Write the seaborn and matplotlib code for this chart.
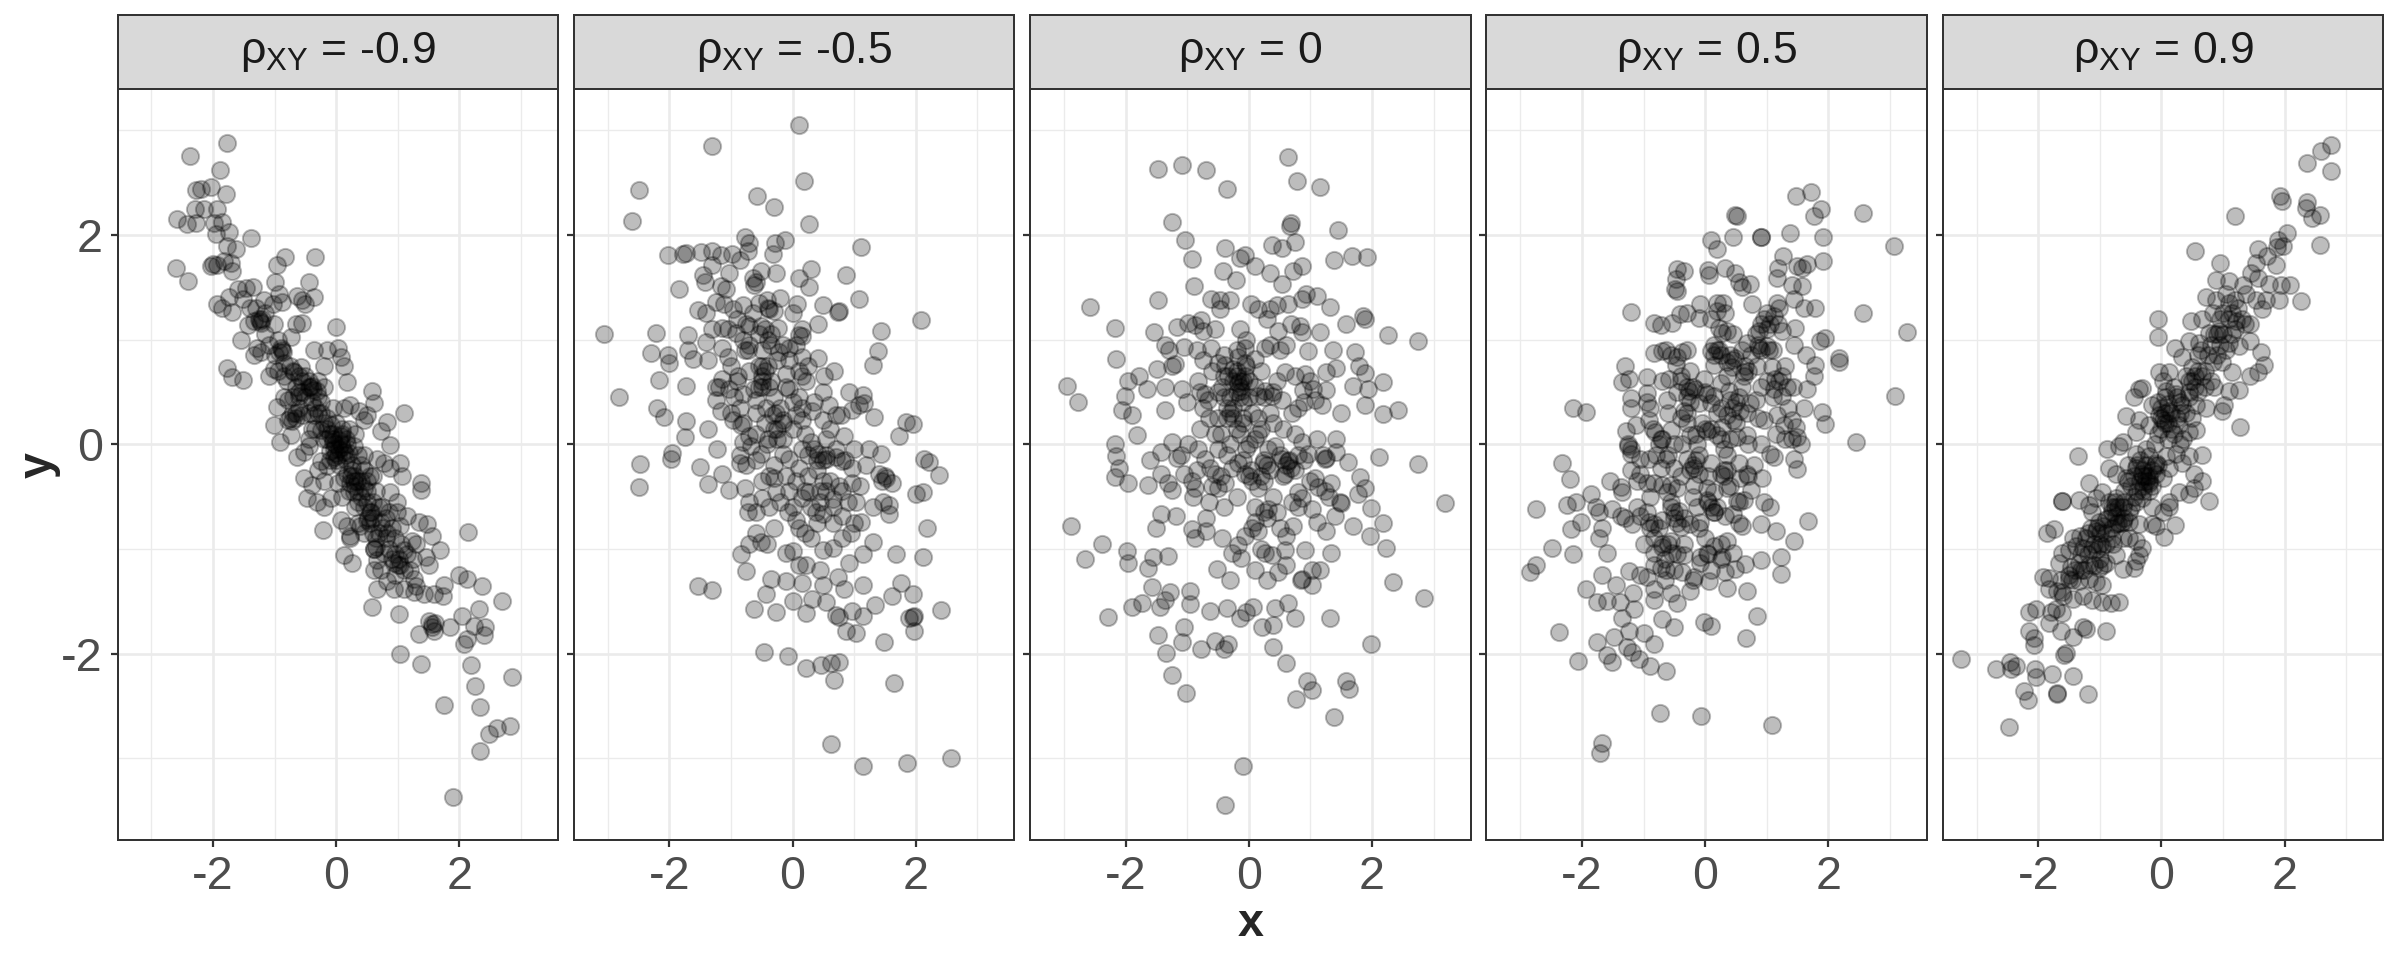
import numpy as np
import pandas as pd
import matplotlib
matplotlib.use("Agg")
import matplotlib.pyplot as plt
from matplotlib.patches import Rectangle
import seaborn as sns

# ---------------- data ----------------
rho_values = ["-0.9", "-0.5", "0", "0.5", "0.9"]

pts_m09 = [
(-1.77,2.88),(-2.37,2.75),(-1.88,2.62),(-2.2,2.44),(-2.28,2.43),(-2.04,2.46),(-1.79,2.39),(-2.14,2.25),(-2.3,2.25),(-1.93,2.25),
(-2.59,2.15),(-2.42,2.1),(-2.28,2.11),(-1.98,2.11),(-1.85,2.12),(-1.74,2.03),(-1.96,2.01),(-1.39,1.97),(-1.77,1.89),(-1.63,1.86),
(-2.61,1.68),(-2.41,1.56),(-2.0,1.72),(-1.93,1.71),(-1.82,1.75),(-1.71,1.73),(-1.69,1.65),(-2.04,1.70),(-0.83,1.79),(-0.97,1.71),
(-0.35,1.79),(-0.99,1.55),(-0.44,1.55),(-1.93,1.34),(-1.85,1.30),(-1.69,1.26),(-1.74,1.41),(-1.59,1.48),(-1.47,1.49),(-1.35,1.50),
(-1.52,1.39),(-1.17,1.38),(-0.93,1.43),(-0.88,1.36),(-1.02,1.34),(-0.63,1.42),(-0.50,1.34),(-0.36,1.41),(-0.55,1.38),(-1.34,1.18),
(-1.24,1.18),(-1.2,1.2),(-1.44,1.14),(-1.01,1.15),(-1.54,1.0),(-1.28,0.92),(-1.34,0.85),(-1.23,0.88),(-0.88,0.90),(-0.93,0.88),
(-0.74,1.02),(-0.66,1.15),(-0.55,1.16),(-0.01,1.12),(-1.78,0.73),(-1.70,0.64),(-1.52,0.61),(-1.09,0.65),(-1.01,0.72),(-0.85,0.78),
(-0.69,0.69),(-0.58,0.74),(-0.42,0.55),(-0.31,0.51),(-0.20,0.55),(-0.36,0.90),(-0.15,0.90),(0.02,0.92),(0.07,0.83),(0.12,0.75),
(0.18,0.59),(-0.96,0.36),(-0.79,0.23),(-0.66,0.25),(-0.55,0.28),(-1.01,0.18),(-0.91,0.02),(-0.74,0.09),(-0.63,-0.12),(-0.52,-0.07),
(-0.44,-0.02),(-0.79,0.42),(-0.60,0.46),(-0.36,0.28),(-0.25,0.14),(-0.15,0.05),(-0.04,-0.05),(0.07,0.0),(0.18,0.0),(0.29,-0.02),
(-0.04,-0.12),(0.12,-0.07),(-0.09,0.18),(0.12,0.35),(0.23,0.37),(0.37,0.32),(0.45,0.23),(0.58,0.51),(0.61,0.39),(0.72,0.13),
(0.83,0.21),(1.10,0.30),(0.88,-0.01),(0.50,0.28),(-0.25,-0.16),(-0.15,-0.21),(-0.52,-0.32),(-0.39,-0.39),(-0.47,-0.51),(-0.31,-0.55),
(-0.20,-0.60),(-0.09,-0.51),(0.02,-0.37),(0.12,-0.32),(0.23,-0.37),(0.34,-0.35),(0.45,-0.42),(0.18,-0.28),(0.29,-0.46),(0.50,-0.55),
(0.66,-0.14),(0.77,-0.18),(0.88,-0.23),(1.04,-0.18),(1.07,-0.30),(1.37,-0.37),(1.37,-0.44),(0.88,-0.46),(0.99,-0.55),(-0.21,-0.82),
(0.07,-0.72),(0.18,-0.78),(0.23,-0.88),(0.39,-0.78),(0.56,-0.65),(0.50,-0.72),(0.72,-0.74),(0.83,-0.85),(0.99,-0.65),(1.04,-0.78),
(1.15,-0.69),(0.12,-1.06),(0.26,-1.13),(0.23,-0.90),(0.61,-1.0),(0.66,-1.11),(0.77,-1.04),(0.94,-1.13),(1.04,-1.15),(1.10,-1.01),
(1.23,-0.92),(1.34,-0.74),(1.48,-0.76),(1.56,-0.88),(1.45,-1.08),(1.51,-1.15),(1.69,-1.01),(0.61,-1.2),(0.72,-1.2),(0.83,-1.31),
(0.66,-1.38),(0.94,-1.38),(1.10,-1.38),(1.26,-1.41),(1.42,-1.43),(1.58,-1.43),(0.58,-1.55),(1.02,-1.62),(1.26,-1.29),(1.75,-1.34),
(1.73,-1.45),(2.14,-0.84),(1.99,-1.25),(2.12,-1.29),(2.37,-1.35),(2.69,-1.50),(2.31,-1.57),(2.04,-1.64),(2.23,-1.74),(2.42,-1.75),
(2.39,-1.82),(2.07,-1.91),(2.12,-1.86),(1.50,-1.69),(1.56,-1.75),(1.61,-1.71),(1.34,-1.81),(1.85,-1.75),(1.04,-2.0),(1.37,-2.1),
(2.18,-2.11),(2.26,-2.31),(2.85,-2.22),(1.75,-2.49),(2.34,-2.51),(2.48,-2.77),(2.61,-2.71),(2.82,-2.69),(2.34,-2.93),(1.89,-3.37),
(-1.22,1.16),(-1.26,1.20),(-0.90,0.92),(-0.86,0.88),(-0.70,0.70),(-0.40,0.56),(-0.38,0.52),(-0.45,0.60),(-0.75,0.25),(-0.72,0.22),
(-0.02,0.0),(0.0,-0.08),(0.05,0.04),(0.10,-0.03),(-0.06,0.02),(0.03,-0.10),(0.08,0.08),(-0.1,-0.06),(0.15,0.05),(0.2,-0.08),
(0.28,-0.35),(0.3,-0.40),(0.24,-0.30),(0.55,-0.65),(0.52,-0.70),(0.62,-1.0),(0.65,-0.98),(1.0,-1.15),(1.02,-1.1),(1.55,-1.72),
(1.58,-1.78),(0.4,-0.2),(0.6,-0.3),(-0.3,0.3),(-0.6,0.5),(0.35,-0.55),(0.8,-0.9),(0.75,-0.6),(-0.45,0.05),(0.45,-0.1),
(-0.2,-0.35),(0.95,-0.9),(1.2,-1.2),(-1.1,0.95),(-0.2,0.75),
(-1.0,0.85),(-0.95,1.0),(-0.8,0.6),(-0.75,0.75),(-0.65,0.55),(-0.6,0.35),(-0.55,0.6),(-0.5,0.45),(-0.45,0.3),(-0.4,0.4),
(-0.35,0.15),(-0.3,0.45),(-0.25,0.3),(-0.2,0.05),(-0.15,0.25),(-0.1,-0.15),(-0.05,0.1),(0.0,0.2),(0.05,-0.2),(0.1,0.15),
(0.15,-0.15),(0.2,0.15),(0.25,-0.2),(0.3,0.1),(0.35,-0.1),(0.4,-0.35),(0.45,-0.25),(0.5,-0.45),(0.55,-0.3),(0.6,-0.55),
(0.65,-0.45),(0.7,-0.6),(0.75,-0.8),(0.8,-0.7),(0.85,-1.0),(0.9,-0.8),(0.95,-1.05),(1.05,-0.95),(1.1,-1.2),(1.15,-1.05),
(-1.3,1.3),(-1.15,1.05),(-0.85,0.45),(-0.7,0.45),(0.35,-0.75),(0.6,-0.85),(-0.3,-0.25),(0.1,-0.5),(1.25,-1.1),(1.3,-0.95),
(-0.05,0.05),(0.05,-0.05),(0.1,0.1),(-0.1,0.1),(0.0,-0.15),(0.15,-0.1),(-0.15,0.15),(0.25,-0.25),(0.3,-0.3),(0.35,-0.45),
(0.4,-0.5),(0.45,-0.6),(0.55,-0.75),(0.6,-0.7),(0.65,-0.9),(0.7,-0.85),(-0.5,0.65),(-0.45,0.55),(-0.55,0.5),(-0.6,0.65),
(-0.7,0.3),(-0.65,0.3),(-0.35,0.35),(-0.25,0.4),(-0.3,0.6),(-0.2,0.2),(0.2,-0.45),(0.5,-0.35),(0.85,-0.65),(0.9,-1.1),
(-0.85,0.65),(-0.95,0.7),(-1.15,1.25),(-1.4,1.3),(0.95,-1.25),(1.3,-1.35),(0.45,-0.85),(-0.05,0.35),(0.3,-0.6),(-0.4,0.15),
]

pts_m05 = [
(0.10,3.05),(-1.30,2.85),(-2.50,2.43),(0.19,2.51),(-0.58,2.37),(-0.30,2.27),(-2.61,2.13),(0.26,2.10),(-0.77,1.98),(-0.70,1.92),
(-0.12,1.95),(-0.29,1.92),(1.11,1.88),(-2.03,1.81),(-1.78,1.82),(-1.73,1.83),(-1.49,1.84),(-1.30,1.85),(-1.16,1.81),(-0.98,1.82),
(-0.86,1.76),(-0.73,1.85),(-0.32,1.82),(-1.46,1.62),(-1.30,1.71),(-1.03,1.64),(-0.65,1.59),(-0.51,1.65),(-0.27,1.64),(0.11,1.59),
(0.30,1.67),(0.27,1.50),(0.86,1.62),(-1.84,1.48),(-1.42,1.55),(-1.16,1.51),(-1.08,1.48),(-0.62,1.52),(1.08,1.39),(-1.54,1.28),
(-1.41,1.25),(-1.24,1.36),(-1.11,1.34),(-0.97,1.29),(-0.81,1.33),(-0.41,1.38),(-0.38,1.29),(-0.30,1.27),(0.08,1.34),(0.49,1.33),
(0.73,1.26),(0.76,1.27),(2.08,1.19),(-3.06,1.05),(-2.22,1.06),(-1.70,1.04),(-1.41,0.98),(-1.14,1.11),(-0.92,1.06),(-0.70,1.13),
(-0.51,1.13),(-0.24,1.11),(0.11,1.04),(0.16,1.03),(0.41,1.15),(1.43,1.08),(-2.30,0.87),(-2.03,0.85),(-2.0,0.78),(-1.70,0.90),
(-1.62,0.81),(-1.38,0.80),(-1.14,0.92),(-1.05,0.83),(-0.78,0.90),(-0.73,0.90),(-0.49,0.75),(-0.22,0.88),(-0.05,0.92),(0.16,0.83),
(0.41,0.82),(1.39,0.89),(1.31,0.76),(-2.17,0.61),(-1.73,0.56),(-2.81,0.45),(-1.24,0.55),(-1.14,0.62),(-1.03,0.53),(-0.89,0.65),
(-0.81,0.48),(-0.62,0.53),(-0.49,0.60),(-0.38,0.55),(-0.11,0.67),(-0.05,0.53),(0.16,0.65),(0.22,0.60),(0.51,0.65),(0.68,0.70),
(0.92,0.50),(1.14,0.47),(1.08,0.37),(1.16,0.39),(-2.20,0.35),(-2.08,0.26),(-1.73,0.22),(-1.74,0.07),(-1.38,0.15),(-1.95,-0.08),
(-1.97,-0.14),(-1.24,0.42),(-1.16,0.32),(-0.97,0.23),(-0.84,0.18),(-0.70,0.08),(-0.59,0.42),(-0.43,0.35),(-0.32,0.28),(-0.27,0.30),
(-0.16,0.23),(0.05,0.28),(0.16,0.23),(0.32,0.32),(0.49,0.23),(0.59,0.37),(0.70,0.28),(0.78,0.28),(0.84,0.08),(0.97,0.33),
(1.32,0.26),(1.73,0.08),(1.84,0.21),(1.95,0.19),(-2.47,-0.19),(-2.50,-0.41),(-1.51,-0.22),(-1.38,-0.38),(-1.22,-0.05),(-1.14,-0.28),
(-1.03,-0.44),(-0.86,-0.18),(-0.81,0.02),(-0.68,-0.02),(-0.51,-0.09),(-0.41,0.0),(-0.38,-0.30),(-0.30,-0.32),(-0.16,-0.09),(-0.05,-0.14),
(0.11,-0.23),(0.30,0.02),(0.41,-0.09),(0.54,-0.14),(0.70,-0.12),(0.81,-0.16),(1.0,-0.05),(0.97,-0.23),(1.24,-0.05),(1.43,-0.09),
(1.41,-0.28),(1.51,-0.32),(1.62,-0.37),(2.14,-0.14),(2.22,-0.17),(2.38,-0.29),(2.0,-0.48),(2.11,-0.46),(-0.78,-0.42),(-0.70,-0.55),
(-0.59,-0.65),(-0.49,-0.51),(-0.38,-0.60),(-0.27,-0.46),(-0.08,-0.65),(0.05,-0.72),(0.16,-0.51),(0.27,-0.46),(0.38,-0.65),(0.49,-0.67),
(0.65,-0.52),(0.81,-0.69),(0.97,-0.37),(1.03,-0.55),(1.11,-0.74),(1.46,-0.55),(1.57,-0.58),(1.57,-0.67),(2.19,-0.80),(-0.73,-0.65),
(-0.59,-0.85),(-0.30,-0.80),(-0.84,-1.05),(-0.76,-1.21),(-0.70,-0.95),(-0.51,-0.93),(-0.41,-0.95),(-0.11,-1.04),(0.0,-1.02),(0.11,-1.15),
(0.22,-1.15),(0.49,-1.01),(0.65,-0.99),(0.92,-1.13),(1.14,-1.05),(1.30,-0.93),(1.68,-1.05),(2.11,-1.08),(-1.53,-1.35),(-1.30,-1.39),
(-0.62,-1.57),(-0.43,-1.43),(-0.35,-1.29),(-0.27,-1.60),(-0.11,-1.31),(0.0,-1.50),(0.16,-1.33),(0.22,-1.61),(0.32,-1.48),(0.49,-1.34),
(0.54,-1.51),(0.73,-1.27),(0.84,-1.38),(0.70,-1.63),(0.86,-1.78),(1.03,-1.80),(0.97,-1.59),(1.14,-1.64),(1.14,-1.34),(1.34,-1.54),
(1.49,-1.89),(1.62,-1.45),(1.76,-1.33),(1.95,-1.43),(1.89,-1.66),(1.97,-1.64),(1.97,-1.78),(2.41,-1.58),(-0.46,-1.98),(-0.07,-2.02),
(0.22,-2.14),(0.46,-2.11),(0.62,-2.09),(0.76,-2.08),(0.68,-2.25),(1.65,-2.28),(0.62,-2.86),(1.14,-3.07),(1.86,-3.04),(2.57,-3.0),
(-0.4,1.3),(-0.5,0.9),(-0.55,0.75),(-0.35,0.6),(-0.25,0.15),(-0.4,0.05),(0.5,-0.15),(0.55,-0.1),(1.45,-0.35),(1.5,-0.3),
(0.75,-1.65),(1.95,-1.65),(-1.2,0.55),(0.15,1.1),(0.0,-0.6),(-0.8,0.2),(-0.6,-0.15),(0.1,-0.8),
(-0.9,1.2),(-0.8,1.0),(-0.7,0.7),(-0.65,1.25),(-0.6,0.3),(-0.55,1.05),(-0.5,0.55),(-0.45,0.2),(-0.4,0.75),(-0.35,0.95),
(-0.3,0.45),(-0.25,0.8),(-0.2,0.35),(-0.15,0.05),(-0.1,0.55),(-0.05,0.8),(0.0,0.15),(0.05,-0.35),(0.1,0.45),(0.15,-0.05),
(0.2,0.1),(0.25,-0.3),(0.3,-0.6),(0.35,0.4),(0.4,-0.25),(0.45,-0.45),(0.55,0.05),(0.6,-0.35),(0.65,-0.75),(0.7,-0.05),
(0.75,-0.4),(0.8,-0.9),(0.85,-0.15),(0.9,-0.55),(1.0,-0.75),(-1.0,0.75),(-1.05,1.1),(-0.85,0.35),(-0.75,-0.2),(-0.95,0.45),
(0.2,-0.85),(0.45,-1.2),(-0.2,-0.55),(-0.5,-0.35),(1.2,-0.2),(1.3,-0.6),(-1.3,1.1),(0.0,1.25),(0.5,0.5),(-0.6,1.55),
(-0.5,0.65),(-0.45,0.7),(-0.55,0.55),(-0.3,0.15),(-0.25,0.05),(-0.15,0.2),(0.25,-0.1),(0.35,-0.05),(0.4,-0.15),(-0.4,1.0),
(-0.35,1.05),(-0.45,1.1),(0.5,-0.35),(0.55,-0.45),(0.45,-0.55),(-0.7,0.95),(-0.75,1.15),(-0.15,0.95),(0.1,0.7),(0.05,0.95),
(-0.3,-0.2),(-0.1,-0.3),(0.2,-0.45),(0.65,-0.6),(0.8,-0.45),(-1.0,0.3),(-0.9,0.6),(-0.6,0.1),(0.15,0.35),(0.0,0.4),
(0.4,-0.75),(0.3,-0.9),(-0.55,1.35),(-0.2,1.4),(0.95,-0.85),(1.1,-0.4),(-0.85,-0.1),(0.6,0.15),(-0.05,-0.45),(0.25,0.75),
]

pts_0 = [
(0.64,2.74),(-1.47,2.63),(-1.08,2.67),(-0.70,2.62),(-0.35,2.44),(0.78,2.51),(1.16,2.46),(-1.25,2.12),(0.69,2.11),(0.66,2.08),
(1.45,2.05),(-1.04,1.95),(-0.93,1.77),(-0.39,1.87),(-0.15,1.78),(-0.06,1.81),(0.10,1.70),(0.37,1.90),(0.53,1.87),(0.75,1.93),
(0.34,1.64),(0.72,1.65),(0.87,1.70),(0.53,1.53),(-0.42,1.65),(-0.21,1.57),(1.38,1.76),(1.67,1.80),(1.91,1.79),(-0.89,1.51),
(-1.47,1.38),(-2.58,1.31),(-0.61,1.39),(-0.47,1.38),(-0.31,1.38),(-0.47,1.29),(0.04,1.34),(0.15,1.29),(0.34,1.29),(0.45,1.33),
(0.64,1.34),(0.86,1.39),(0.92,1.43),(1.11,1.42),(1.31,1.31),(1.85,1.22),(1.88,1.20),(-2.18,1.11),(-1.54,1.07),(-1.36,0.95),
(-1.17,1.12),(-0.98,1.16),(-0.88,1.14),(-0.74,1.08),(-0.77,1.19),(-1.06,0.93),(-0.85,0.90),(-0.61,0.92),(-0.50,0.78),(-0.39,0.76),
(-0.25,0.72),(-0.17,0.83),(-0.06,0.78),(-0.06,0.92),(0.10,0.81),(0.26,0.92),(0.34,0.95),(0.50,0.90),(0.48,1.08),(0.69,1.15),
(0.83,1.13),(0.86,1.07),(1.15,1.07),(1.58,1.15),(2.26,1.04),(2.75,0.99),(-2.16,0.81),(-2.96,0.56),(-2.77,0.40),(-1.96,0.60),
(-2.01,0.46),(-1.79,0.65),(-1.66,0.53),(-2.06,0.33),(-1.90,0.28),(-1.82,0.09),(-1.49,0.72),(-1.36,0.55),(-1.25,0.75),(-1.20,0.77),
(-1.36,0.33),(-1.09,0.53),(-0.82,0.60),(-0.71,0.48),(-0.66,0.42),(-0.44,0.55),(-0.34,0.65),(-0.17,0.58),(-0.12,0.51),(-0.06,0.65),
(0.15,0.46),(0.26,0.51),(0.37,0.46),(0.53,0.42),(0.58,0.69),(0.75,0.65),(0.91,0.67),(0.88,0.52),(1.04,0.53),(1.26,0.69),
(1.42,0.73),(1.07,0.42),(1.18,0.37),(1.26,0.52),(1.72,0.88),(1.78,0.75),(1.88,0.68),(1.69,0.56),(1.94,0.53),(2.18,0.59),
(2.18,0.29),(2.42,0.33),(1.88,0.37),(0.96,0.89),(1.36,0.90),(-2.18,0.0),(-2.15,-0.11),(-2.11,-0.23),(-2.17,-0.31),(-1.96,-0.37),
(-1.64,-0.39),(-1.60,-0.15),(-1.42,-0.07),(-1.25,0.02),(-1.17,-0.13),(-1.42,-0.28),(-1.31,-0.37),(-1.25,-0.44),(-1.06,-0.28),(-0.93,-0.35),
(-0.88,-0.42),(-0.99,0.0),(-0.82,-0.05),(-0.71,-0.14),(-0.63,-0.23),(-0.55,-0.28),(-0.50,-0.42),(-0.39,-0.37),(-0.28,-0.23),(-0.17,-0.18),
(-0.06,-0.28),(0.04,-0.25),(0.15,-0.42),(0.23,-0.18),(0.31,-0.05),(0.42,-0.02),(0.53,-0.14),(0.64,-0.16),(0.69,-0.23),(0.80,-0.46),
(0.86,0.02),(0.96,-0.09),(1.10,0.05),(1.23,-0.14),(1.26,-0.13),(1.42,0.05),(1.42,-0.07),(1.61,-0.17),(1.80,-0.31),(1.88,-0.42),
(1.77,-0.48),(1.99,-0.61),(2.12,-0.12),(2.75,-0.19),(3.19,-0.56),(1.07,-0.32),(1.12,-0.41),(1.23,-0.45),(1.34,-0.37),(1.50,-0.56),
(0.58,-0.28),(-2.88,-0.78),(-2.39,-0.95),(-2.66,-1.10),(-1.98,-1.02),(-1.96,-1.13),(-1.63,-1.18),(-1.55,-1.08),(-1.31,-1.07),(-1.42,-0.67),
(-1.18,-0.69),(-1.51,-0.80),(-0.93,-0.81),(-0.88,-0.90),(-0.69,-0.83),(-0.44,-0.90),(-0.52,-1.19),(-0.28,-1.04),(-0.17,-0.96),(-0.12,-1.09),
(-0.06,-0.88),(0.15,-0.83),(0.10,-0.74),(0.31,-0.62),(0.26,-1.04),(0.37,-1.06),(0.48,-1.22),(0.58,-1.01),(0.61,-0.88),(0.72,-0.78),
(0.80,-0.60),(0.86,-0.51),(1.02,-0.62),(1.10,-0.74),(1.26,-0.83),(1.40,-0.69),(1.48,-0.55),(1.69,-0.78),(1.96,-0.88),(2.18,-0.75),
(2.22,-0.99),(0.91,-1.01),(1.02,-1.20),(1.15,-1.20),(1.34,-1.04),(-1.58,-1.36),(-1.28,-1.41),(-1.90,-1.55),(-1.74,-1.52),(-1.44,-1.55),
(-1.36,-1.49),(-0.96,-1.40),(-0.96,-1.53),(-2.28,-1.65),(-0.63,-1.59),(-0.36,-1.56),(-0.15,-1.66),(0.07,-1.55),(0.21,-1.75),(0.40,-1.73),
(0.40,-1.94),(0.42,-1.56),(0.64,-1.52),(0.75,-1.66),(0.86,-1.29),(1.02,-1.34),(1.32,-1.66),(2.34,-1.32),(2.85,-1.47),(1.99,-1.91),
(-1.48,-1.82),(-1.09,-1.89),(-1.05,-1.75),(-0.77,-1.96),(-0.55,-1.88),(-0.41,-1.96),(-0.34,-1.91),(-1.34,-1.99),(-1.25,-2.20),(-1.02,-2.38),
(0.61,-2.09),(0.95,-2.26),(1.02,-2.35),(0.77,-2.43),(1.58,-2.26),(1.62,-2.34),(1.39,-2.61),(-0.09,-3.07),(-0.39,-3.45),
(-0.2,0.7),(-0.15,0.6),(-0.25,0.6),(-0.35,0.35),(-0.2,0.15),(-0.15,0.1),(-0.5,0.25),(-0.75,0.35),(0.0,-0.3),(0.05,-0.35),
(0.65,-0.15),(0.6,-0.2),(1.2,-0.1),(0.25,-0.65),(0.3,-0.7),(-0.1,0.4),(-0.4,0.85),(0.1,0.05),(-0.6,-0.4),(0.3,-1.3),
(0.85,-1.3),(-0.05,-1.6),(-0.3,0.0),(0.4,0.2),
(-0.6,0.7),(-0.5,0.5),(-0.45,0.1),(-0.4,0.65),(-0.35,-0.1),(-0.3,0.45),(-0.25,0.25),(-0.2,-0.5),(-0.1,0.2),(-0.05,-0.05),
(0.0,0.6),(0.05,0.3),(0.1,-0.6),(0.15,0.1),(0.2,0.7),(0.25,-0.35),(0.35,0.3),(0.4,-0.5),(0.45,0.6),(0.5,-0.8),
(0.55,0.15),(0.6,0.95),(0.7,-0.55),(0.8,0.35),(0.9,-0.15),(1.0,0.6),(-0.8,0.15),(-0.9,-0.5),(-1.0,0.4),(-1.1,-0.1),
(-0.7,-0.7),(-0.55,1.1),(-0.15,1.1),(0.3,1.2),(0.1,-1.2),(-0.3,-1.3),(0.6,-1.15),(-1.3,0.9),(1.3,-0.5),(1.5,0.3),
(-0.65,-0.55),(0.25,0.45),(-0.2,0.9),(0.75,0.1),(-0.45,-0.3),
(-0.15,0.55),(-0.1,0.6),(-0.2,0.5),(-0.2,0.65),(-0.15,0.45),(-0.3,0.3),(-0.25,0.35),(-0.35,0.25),(-0.4,0.45),(-0.1,0.25),
(0.0,0.45),(0.1,0.55),(-0.05,0.75),(0.3,-0.2),(0.25,-0.15),(0.35,-0.25),(0.2,-0.3),(0.5,-0.1),(0.55,-0.3),(0.75,-0.25),
(0.8,-0.1),(-0.5,-0.05),(-0.55,0.1),(-0.65,0.25),(-0.8,0.5),(-0.1,-0.15),(0.0,0.0),(0.15,0.25),(0.2,0.15),(0.4,0.5),
(-0.4,-0.6),(0.05,-0.8),(0.2,-1.0),(0.45,-0.65),(0.7,0.3),(0.9,0.4),(1.0,-0.35),(-0.85,-0.25),(-0.75,0.8),(-0.05,1.0),
]

pts_05 = [
(1.48,2.37),(1.72,2.41),(1.88,2.25),(1.77,2.18),(2.56,2.21),(0.49,2.19),(0.52,2.18),(0.46,1.98),(0.90,1.98),(0.91,1.98),
(1.37,2.02),(1.91,1.98),(3.06,1.89),(0.09,1.95),(0.19,1.86),(1.26,1.80),(1.18,1.68),(1.49,1.70),(1.57,1.68),(1.65,1.72),
(1.91,1.75),(1.17,1.59),(1.41,1.52),(1.44,1.39),(1.57,1.51),(-0.46,1.67),(-0.35,1.65),(-0.48,1.58),(-0.49,1.48),(-0.46,1.46),
(0.05,1.66),(0.06,1.62),(0.32,1.68),(0.49,1.64),(0.55,1.55),(0.72,1.53),(-1.21,1.26),(-0.09,1.34),(0.29,1.35),(0.76,1.34),
(1.17,1.35),(1.79,1.30),(2.56,1.25),(3.28,1.07),(-0.83,1.16),(-0.72,1.14),(-0.54,1.16),(-0.41,1.24),(-0.29,1.25),(-0.10,1.21),
(0.09,1.20),(0.19,1.27),(0.33,1.25),(0.22,1.11),(0.28,1.06),(0.36,1.08),(0.68,0.97),(0.82,1.05),(0.87,1.08),(0.95,1.20),
(1.01,1.25),(1.11,1.22),(1.19,1.15),(1.25,1.08),(1.46,1.11),(1.86,0.99),(1.95,1.01),(0.87,0.92),(1.03,0.90),(1.01,0.94),
(-0.83,0.87),(-0.70,0.89),(-0.64,0.90),(-0.45,0.83),(-0.37,0.88),(-0.29,0.90),(-0.48,0.76),(0.09,0.89),(0.22,0.90),(0.14,0.76),
(0.36,0.79),(0.49,0.82),(0.44,0.74),(0.63,0.69),(0.84,0.75),(1.08,0.74),(1.25,0.65),(1.63,0.85),(1.79,0.76),(2.17,0.82),
(2.18,0.79),(-1.30,0.75),(-1.35,0.59),(-1.24,0.62),(-0.94,0.64),(-0.94,0.49),(-0.70,0.60),(-0.59,0.62),(-0.40,0.60),(-0.26,0.51),
(-0.16,0.53),(-0.02,0.62),(0.03,0.48),(0.14,0.46),(0.25,0.58),(0.38,0.51),(0.41,0.42),(0.63,0.65),(0.73,0.39),(0.90,0.55),
(1.14,0.62),(1.12,0.53),(1.33,0.55),(1.42,0.55),(1.25,0.46),(1.65,0.53),(1.76,0.65),(3.09,0.46),(-2.15,0.35),(-1.93,0.31),
(-1.21,0.44),(-1.21,0.35),(-0.89,0.35),(-0.62,0.42),(-0.35,0.32),(-0.29,0.30),(-0.10,0.39),(0.09,0.39),(0.36,0.28),(0.46,0.23),
(0.57,0.32),(0.68,0.30),(0.82,0.42),(0.95,0.23),(1.17,0.28),(1.28,0.18),(1.41,0.23),(1.47,0.16),(1.60,0.35),(1.90,0.31),
(1.94,0.19),(2.45,0.02),(-1.29,0.13),(-1.13,0.18),(-0.91,0.23),(-0.81,0.12),(-0.72,0.05),(-0.56,0.14),(-0.37,0.0),(-0.24,0.09),
(-0.13,0.0),(0.03,0.13),(0.19,0.09),(0.28,0.16),(0.52,0.07),(0.68,0.09),(0.90,0.0),(1.06,-0.09),(1.11,-0.12),(1.30,0.05),
(1.41,0.05),(1.49,0.07),(1.56,0.0),(1.44,-0.14),(1.49,-0.24),(-2.32,-0.18),(-2.19,-0.33),(-1.26,-0.02),(-1.21,-0.09),(-1.05,-0.14),
(-0.91,-0.14),(-0.72,-0.23),(-0.64,-0.14),(-0.51,-0.23),(-0.29,-0.14),(-0.18,-0.23),(-0.10,-0.28),(0.09,-0.18),(0.25,-0.28),(0.30,-0.25),
(0.55,-0.18),(0.57,-0.32),(0.68,-0.28),(0.92,-0.32),(-1.05,-0.28),(-0.94,-0.37),(-0.83,-0.37),(-0.70,-0.39),(-0.62,-0.46),(-0.56,-0.39),
(-0.45,-0.42),(-0.18,-0.39),(0.03,-0.42),(0.14,-0.46),(0.36,-0.42),(0.52,-0.54),(0.63,-0.53),(0.74,-0.44),(-2.74,-0.62),(-2.24,-0.58),
(-2.10,-0.55),(-2.17,-0.81),(-2.02,-0.74),(-1.86,-0.48),(-1.78,-0.60),(-1.73,-0.65),(-1.67,-0.80),(-1.73,-0.90),(-1.59,-1.04),(-1.54,-0.35),
(-1.37,-0.41),(-1.35,-0.46),(-1.51,-0.62),(-1.37,-0.69),(-1.18,-0.76),(-1.10,-0.60),(-1.05,-0.69),(-0.91,-0.74),(-0.83,-0.76),(-0.70,-0.72),
(-0.51,-0.65),(-0.43,-0.64),(-0.40,-0.79),(-0.24,-0.76),(-0.13,-0.60),(-0.08,-0.74),(0.03,-0.53),(0.14,-0.65),(0.33,-0.69),(0.46,-0.67),
(0.55,-0.55),(0.60,-0.78),(0.90,-0.76),(1.05,-0.60),(1.15,-0.83),(1.44,-0.92),(1.67,-0.73),(-2.48,-0.99),(-2.14,-1.05),(-2.75,-1.15),
(-2.85,-1.22),(-0.83,-0.90),(-0.83,-1.04),(-0.70,-0.95),(-0.56,-0.92),(-0.54,-1.04),(-0.34,-1.06),(-0.08,-1.08),(0.03,-1.04),(0.14,-0.97),
(0.25,-0.95),(0.36,-0.92),(0.46,-1.04),(0.28,-1.08),(-0.83,-1.15),(-0.72,-1.18),(-0.64,-1.20),(-0.51,-1.20),(-0.37,-1.22),(-0.18,-1.27),
(-0.08,-1.13),(0.09,-1.20),(0.33,-1.22),(0.49,-1.19),(0.65,-1.14),(0.90,-1.11),(1.23,-1.08),(1.23,-1.24),(-1.24,-1.21),(-1.05,-1.25),
(-0.94,-1.27),(-1.94,-1.38),(-1.75,-1.51),(-1.67,-1.25),(-1.45,-1.34),(-1.17,-1.42),(-0.83,-1.38),(-0.56,-1.42),(-0.24,-1.40),(0.06,-1.31),
(0.36,-1.37),(0.68,-1.40),(-1.38,-1.51),(-1.16,-1.57),(-0.83,-1.49),(-0.45,-1.52),(-1.35,-1.66),(-0.70,-1.67),(-0.50,-1.75),(-0.02,-1.70),
(0.09,-1.74),(0.84,-1.64),(-2.37,-1.79),(-1.76,-1.89),(-1.48,-1.84),(-1.24,-1.78),(-0.99,-1.80),(-0.83,-1.91),(-1.59,-2.01),(-1.51,-2.08),
(-1.27,-1.94),(-1.18,-1.98),(-1.07,-2.05),(-0.89,-2.12),(-0.64,-2.17),(-2.07,-2.07),(0.67,-1.85),(-0.74,-2.57),(-0.06,-2.60),(1.08,-2.68),
(-1.67,-2.85),(-1.71,-2.95),
(-0.4,0.65),(-0.3,0.55),(0.4,0.85),(0.45,0.8),(-0.55,0.85),(1.0,1.1),(1.05,1.15),(-1.25,0.0),(-1.2,-0.05),(0.3,-0.3),
(0.35,-0.25),(-0.6,-0.1),(-0.45,-0.75),(-0.35,-0.7),(-0.7,-0.98),(-0.65,-1.1),(0.05,-1.05),(-1.6,-1.5),(-0.1,-0.1),(0.2,0.3),
(-0.9,-0.5),(-0.8,-0.1),(-0.75,-0.8),(-0.6,0.3),(-0.55,-0.55),(-0.5,0.0),(-0.45,0.5),(-0.4,-0.3),(-0.35,-0.95),(-0.3,0.2),
(-0.25,0.7),(-0.2,-0.5),(-0.15,0.1),(-0.1,-0.8),(0.0,0.5),(0.05,-0.3),(0.1,0.15),(0.15,0.95),(0.2,-0.6),(0.25,0.35),
(0.3,-0.05),(0.35,0.65),(0.4,-0.4),(0.45,1.05),(0.5,0.2),(0.55,-0.75),(0.6,0.55),(0.7,0.0),(0.75,0.85),(0.8,-0.2),
(0.85,0.25),(0.9,1.15),(1.0,0.6),(1.1,0.9),(1.15,0.1),(1.2,1.3),(1.3,0.75),(1.35,0.35),(1.45,0.95),(-1.1,-0.35),
(-1.0,-0.95),(-1.3,-0.7),(-0.65,-1.3),(0.25,-1.1),(-0.2,-1.3),(0.6,1.5),(1.6,1.3),(-0.95,0.4),(0.95,-0.55),(0.2,1.35),
(-0.3,0.45),(-0.25,0.4),(-0.2,0.55),(0.2,0.9),(0.25,0.85),(0.15,0.85),(0.5,0.4),(0.55,0.45),(0.45,0.35),(-0.2,-0.2),
(-0.15,-0.15),(-0.25,-0.25),(0.1,-0.6),(0.05,-0.55),(0.15,-0.65),(-0.75,0.0),(-0.7,0.05),(-0.85,0.15),(0.35,-0.1),(0.4,0.05),
(0.6,0.9),(0.65,0.75),(0.7,0.7),(0.9,0.9),(0.85,0.95),(-0.55,-0.6),(-0.5,-0.7),(-0.95,-0.65),(-0.9,-0.8),(-0.6,-0.95),
(-0.45,-1.05),(0.0,-0.9),(0.0,0.15),(-0.05,0.2),(0.25,0.05),(-0.4,0.25),(1.1,0.45),(1.2,0.6),(-1.2,-0.25),(0.7,-0.3),
]

pts_09 = [
(2.76,2.86),(2.59,2.80),(2.37,2.69),(2.76,2.61),(1.92,2.37),(1.95,2.32),(2.36,2.31),(2.34,2.26),(2.45,2.16),(2.58,2.19),
(1.19,2.18),(2.57,1.90),(0.55,1.85),(0.95,1.73),(1.56,1.86),(2.04,2.02),(1.90,1.95),(1.87,1.88),(1.98,1.89),(1.72,1.80),
(1.53,1.73),(1.86,1.71),(1.45,1.64),(1.56,1.59),(0.88,1.57),(1.10,1.56),(1.32,1.52),(1.75,1.53),(1.94,1.52),(2.08,1.52),
(2.26,1.37),(0.72,1.41),(0.88,1.38),(1.04,1.43),(1.20,1.38),(1.37,1.43),(1.53,1.38),(1.69,1.38),(1.91,1.38),(-0.05,1.20),
(-0.05,1.02),(0.48,1.18),(0.66,1.20),(0.83,1.25),(1.10,1.20),(1.21,1.18),(1.43,1.15),(1.64,1.29),(0.22,0.92),(0.45,0.99),
(0.61,0.97),(0.77,1.06),(0.94,1.08),(1.10,0.97),(1.26,0.94),(1.43,0.99),(1.62,0.88),(1.67,0.76),(1.56,0.69),(0.34,0.83),
(0.50,0.74),(0.66,0.65),(0.83,0.79),(0.99,0.79),(1.15,0.69),(1.26,0.52),(1.43,0.65),(0.85,0.55),(1.10,0.51),(-0.58,0.27),
(-0.36,0.53),(-0.31,0.54),(-0.04,0.69),(0.12,0.69),(0.02,0.60),(0.07,0.51),(0.23,0.48),(-0.15,0.37),(-0.04,0.28),(0.12,0.32),
(0.34,0.37),(0.56,0.37),(0.72,0.35),(0.99,0.32),(1.02,0.37),(1.28,0.16),(-0.36,0.23),(-0.20,0.18),(0.02,0.23),(0.29,0.18),
(0.45,0.12),(0.56,0.14),(-0.42,0.12),(-0.63,0.02),(-1.35,-0.11),(-0.88,-0.05),(-0.69,-0.02),(-0.42,-0.09),(-0.20,-0.11),(-0.09,-0.18),
(0.07,-0.11),(0.23,-0.09),(0.45,-0.11),(0.66,-0.10),(-0.85,-0.23),(-0.74,-0.28),(-0.58,-0.32),(-0.42,-0.23),(-0.31,-0.28),(-0.20,-0.37),
(-0.09,-0.28),(0.02,-0.32),(0.12,-0.23),(0.34,-0.18),(0.53,-0.28),(0.66,-0.35),(0.77,-0.54),(0.53,-0.42),(0.45,-0.48),(0.29,-0.46),
(0.12,-0.55),(-1.62,-0.54),(-1.61,-0.54),(-1.34,-0.53),(-1.17,-0.37),(-1.07,-0.51),(-0.96,-0.46),(-0.85,-0.55),(-0.74,-0.51),(-0.63,-0.60),
(-0.53,-0.65),(-0.42,-0.55),(-0.31,-0.51),(-0.15,-0.60),(0.02,-0.65),(0.12,-0.60),(-1.17,-0.58),(-1.12,-0.65),(-1.01,-0.74),(-0.90,-0.71),
(-0.74,-0.69),(-0.63,-0.74),(-0.80,-0.65),(-1.85,-0.85),(-1.74,-0.81),(-1.44,-0.90),(-1.33,-0.88),(-1.22,-0.90),(-1.06,-0.83),(-0.95,-0.78),
(-0.74,-0.76),(-0.52,-0.74),(-0.36,-0.76),(-0.15,-0.76),(-0.09,-0.78),(0.04,-0.89),(0.22,-0.77),(-1.61,-1.04),(-1.50,-1.01),(-1.39,-0.97),
(-1.28,-0.99),(-1.12,-1.01),(-0.96,-0.97),(-0.79,-0.95),(-0.63,-0.90),(-0.52,-0.90),(-0.41,-0.92),(-0.31,-0.99),(-0.36,-1.06),(-0.74,-1.06),
(-1.66,-1.13),(-1.47,-1.17),(-1.34,-1.13),(-1.17,-1.15),(-1.01,-1.18),(-0.90,-1.13),(-0.63,-1.19),(-0.44,-1.18),(-0.42,-1.12),(-1.93,-1.27),
(-1.82,-1.28),(-1.63,-1.30),(-1.50,-1.29),(-1.34,-1.31),(-1.17,-1.29),(-1.06,-1.32),(-0.96,-1.34),(-1.82,-1.38),(-1.61,-1.41),(-1.44,-1.48),
(-1.28,-1.45),(-1.12,-1.49),(-0.96,-1.51),(-0.82,-1.52),(-0.69,-1.51),(-1.71,-1.57),(-1.79,-1.60),(-1.61,-1.61),(-2.15,-1.60),(-2.04,-1.57),
(-1.82,-1.71),(-1.63,-1.78),(-1.44,-1.84),(-1.28,-1.75),(-1.23,-1.76),(-0.90,-1.78),(-2.15,-1.78),(-2.07,-1.85),(-2.07,-1.92),(-1.55,-1.99),
(-1.58,-2.01),(-3.25,-2.05),(-2.68,-2.15),(-2.46,-2.08),(-2.36,-2.12),(-2.44,-2.15),(-2.06,-2.15),(-2.04,-2.22),(-1.78,-2.19),(-1.43,-2.21),
(-1.70,-2.38),(-1.69,-2.39),(-1.20,-2.39),(-2.23,-2.36),(-2.17,-2.44),(-2.47,-2.70),
(-0.25,-0.35),(-0.2,-0.3),(-0.3,-0.4),(-0.15,-0.25),(-0.25,-0.2),(0.0,0.35),(0.05,0.3),(-0.05,0.4),(0.1,0.38),(0.95,1.2),
(1.0,1.25),(1.15,1.25),(0.6,0.85),(0.65,0.9),(-0.8,-0.6),(-0.75,-0.55),(-1.2,-0.85),(-1.15,-0.8),(-0.6,-0.45),(0.3,0.0),
(0.45,0.6),(-0.45,0.45),(-1.45,-1.3),(-1.0,-1.1),
(-1.4,-1.2),(-1.3,-1.05),(-1.25,-1.2),(-1.1,-0.95),(-1.05,-0.8),(-1.0,-0.95),(-0.9,-0.85),(-0.85,-0.7),(-0.8,-0.8),(-0.7,-0.6),
(-0.65,-0.75),(-0.6,-0.55),(-0.55,-0.35),(-0.5,-0.6),(-0.45,-0.3),(-0.4,-0.45),(-0.35,-0.15),(-0.3,-0.3),(-0.25,-0.05),(-0.2,-0.45),
(-0.1,0.0),(-0.05,-0.2),(0.0,0.15),(0.05,0.45),(0.1,0.05),(0.15,0.3),(0.2,0.55),(0.25,0.25),(0.3,0.4),(0.35,0.05),
(0.4,0.3),(0.45,0.45),(0.5,0.25),(0.55,0.55),(0.6,0.7),(0.7,0.55),(0.75,0.85),(0.8,0.6),(0.85,1.05),(0.9,0.85),
(1.0,1.05),(1.05,0.9),(1.1,1.35),(1.2,1.1),(1.25,1.3),(1.35,1.15),(-1.5,-1.25),(-1.6,-1.45),(-1.7,-1.4),(-0.95,-1.15),
(-0.25,-0.3),(-0.3,-0.25),(-0.2,-0.35),(-0.35,-0.35),(-0.3,-0.45),(-0.15,-0.4),(-0.1,-0.2),(-0.4,-0.2),(-0.45,-0.5),(-0.5,-0.4),
(0.0,0.25),(0.05,0.2),(-0.05,0.1),(0.1,0.2),(0.15,0.15),(0.5,0.6),(0.55,0.65),(0.45,0.5),(0.6,0.5),(0.4,0.65),
(0.9,1.05),(0.95,0.95),(0.8,0.95),(-0.6,-0.7),(-0.7,-0.75),(-0.75,-0.6),(-0.9,-0.95),(-1.0,-0.85),(-1.05,-1.0),(-1.2,-1.05),
(-1.3,-1.2),(-1.1,-1.15),(-0.8,-0.9),(0.3,0.3),(0.25,0.45),(0.7,0.7),(1.3,1.2),(1.15,1.05),(-0.55,-0.2),(0.2,0.1),
]

panel_points = [pts_m09, pts_m05, pts_0, pts_05, pts_09]
x_ticks = [-2, 0, 2]
y_ticks = [-2, 0, 2]
x_minor = [-3, -1, 1, 3]
y_minor = [-3, -1, 1, 3]

# ---------------- style ----------------
sns.set_theme(style="white")
plt.rcParams["font.family"] = ["Liberation Sans", "DejaVu Sans"]
plt.rcParams["mathtext.fontset"] = "custom"
plt.rcParams["mathtext.rm"] = "Liberation Sans"

frames = []
for lab, pts in zip(rho_values, panel_points):
    arr = np.array(pts, dtype=float)
    frames.append(pd.DataFrame({"x": arr[:, 0], "y": arr[:, 1], "rho": lab}))
df = pd.concat(frames, ignore_index=True)

fig, axes = plt.subplots(1, 5, figsize=(15, 6), dpi=160, sharex=True, sharey=True)
fig.subplots_adjust(left=0.049, right=0.993, bottom=0.125, top=0.907, wspace=0.036)

border = "#333333"
strip_h = 0.0985
for ax, lab in zip(axes, rho_values):
    sub = df[df["rho"] == lab]
    ax.set_axisbelow(True)
    for v in x_minor:
        ax.axvline(v, color="#EBEBEB", lw=0.6, zorder=0)
    for v in y_minor:
        ax.axhline(v, color="#EBEBEB", lw=0.6, zorder=0)
    for v in x_ticks:
        ax.axvline(v, color="#EBEBEB", lw=1.2, zorder=0)
    for v in y_ticks:
        ax.axhline(v, color="#EBEBEB", lw=1.2, zorder=0)
    sns.scatterplot(data=sub, x="x", y="y", ax=ax, color="black", alpha=0.26,
                    s=60, edgecolor="black", linewidth=0.9, legend=False, zorder=3)
    ax.set_xlim(-3.55, 3.60)
    ax.set_ylim(-3.78, 3.39)
    ax.set_xticks(x_ticks)
    ax.set_yticks(y_ticks)
    ax.set_xticklabels([str(t) for t in x_ticks])
    ax.set_yticklabels([str(t) for t in y_ticks])
    ax.tick_params(axis="both", which="major", length=3.3, width=1.0, color=border,
                   labelsize=21, labelcolor="#4D4D4D", pad=3.3,
                   bottom=True, left=True)
    for sp in ax.spines.values():
        sp.set_color(border)
        sp.set_linewidth(0.9)
        sp.set_visible(True)
    ax.set_xlabel("")
    ax.set_ylabel("")
    ax.add_patch(Rectangle((0, 1), 1, strip_h, transform=ax.transAxes, clip_on=False,
                           facecolor="#D9D9D9", edgecolor=border, lw=0.9, zorder=5))
    ax.text(0.5, 1 + strip_h / 2, "ρ$_{\\mathregular{XY}}$ = " + lab, transform=ax.transAxes,
            ha="center", va="center", fontsize=20, color="#1A1A1A", zorder=6)

for ax in axes[1:]:
    ax.tick_params(axis="y", left=True, labelleft=False)

fig.text(0.521, 0.038, "x", ha="center", va="center", fontsize=21, fontweight="bold")
fig.text(0.016, 0.516, "y", ha="center", va="center", fontsize=21, fontweight="bold", rotation=90)

fig.savefig("out.png", dpi=160, facecolor="white")
